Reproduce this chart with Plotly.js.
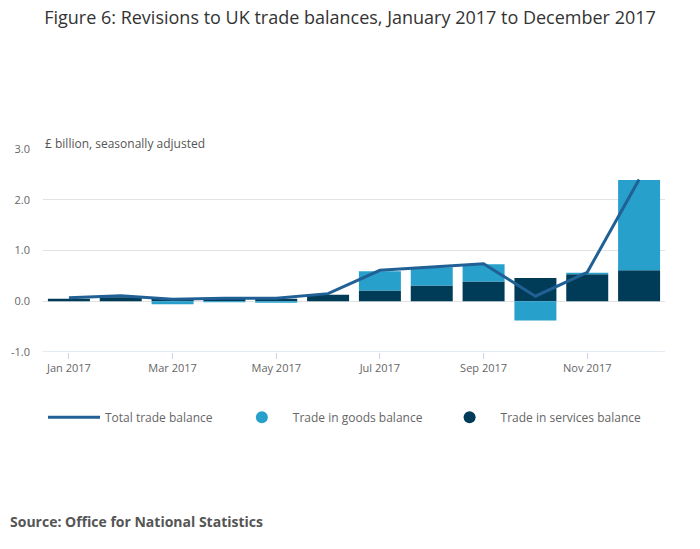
<!DOCTYPE html>
<html>
<head>
<meta charset="utf-8">
<script src="https://cdn.plot.ly/plotly-3.0.1.min.js"></script>
<style>
  html, body { margin: 0; padding: 0; background: #fff; }
  #chart { width: 700px; height: 549px; }
</style>
</head>
<body>
<div id="chart"></div>
<script>
var months = ["Jan 2017", "Feb 2017", "Mar 2017", "Apr 2017", "May 2017", "Jun 2017",
              "Jul 2017", "Aug 2017", "Sep 2017", "Oct 2017", "Nov 2017", "Dec 2017"];
var tickMonths = ["Jan 2017", "Mar 2017", "May 2017", "Jul 2017", "Sep 2017", "Nov 2017"];

var services = [0.05, 0.08, 0.05, 0.05, 0.05, 0.13, 0.21, 0.31, 0.39, 0.46, 0.53, 0.61];
var goods = [0.00, 0.00, -0.06, -0.02, -0.03, 0.00, 0.38, 0.36, 0.34, -0.38, 0.03, 1.78];
var total = [0.07, 0.11, 0.04, 0.06, 0.06, 0.15, 0.61, 0.68, 0.74, 0.10, 0.57, 2.40];

var darkBlue = "#003c57";
var lightBlue = "#27a0cc";
var lineBlue = "#206095";

var data = [
    {
        x: months, y: total, type: "scatter", mode: "lines",
        name: "Total trade balance", legend: "legend",
        line: {color: lineBlue, width: 3}
    },
    {
        x: [null], y: [null], type: "scatter", mode: "markers",
        name: "Trade in goods balance", legend: "legend2",
        marker: {color: lightBlue, size: 12, symbol: "circle"}
    },
    {
        x: [null], y: [null], type: "scatter", mode: "markers",
        name: "Trade in services balance", legend: "legend3",
        marker: {color: darkBlue, size: 12, symbol: "circle"}
    },
    {
        x: months, y: services, type: "bar", name: "Trade in services balance",
        marker: {color: darkBlue}, showlegend: false
    },
    {
        x: months, y: goods, type: "bar", name: "Trade in goods balance",
        marker: {color: lightBlue}, showlegend: false
    }
];

// one legend box per entry so each sits where the reference puts it
function legendAt(x) {
    return {
        orientation: "h",
        x: x, xanchor: "left",
        y: -0.25, yanchor: "top",
        font: {size: 12, color: "#666"},
        itemwidth: 52
    };
}

var layout = {
    width: 700,
    height: 549,
    margin: {l: 43, r: 35, t: 149, b: 197},
    paper_bgcolor: "#fff",
    plot_bgcolor: "#fff",
    font: {family: "Open Sans, sans-serif", color: "#666", size: 11},
    title: {
        text: "Figure 6: Revisions to UK trade balances, January 2017 to December 2017",
        font: {size: 18, color: "#333"},
        x: 0.5, xanchor: "center", y: 0.967, yanchor: "middle"
    },
    barmode: "relative",
    bargap: 0.19,
    showlegend: true,
    legend: legendAt(0.0),
    legend2: legendAt(0.302),
    legend3: legendAt(0.636),
    xaxis: {
        type: "category",
        range: [-0.5, 11.5],
        tickvals: tickMonths,
        ticks: "outside",
        ticklen: 6,
        tickcolor: "#c8d6e8",
        showgrid: false,
        showline: false,
        fixedrange: true
    },
    yaxis: {
        range: [-1, 3],
        tickvals: [-1, 0, 1, 2, 3],
        ticktext: ["-1.0", "0.0", "1.0", "2.0", "3.0"],
        gridcolor: "#e2e2e2",
        zeroline: false,
        showline: false,
        ticks: "",
        ticklabelstandoff: 12,
        fixedrange: true
    },
    shapes: [
        {type: "line", xref: "paper", yref: "y", x0: 0, x1: 1, y0: -1, y1: -1,
         line: {color: "#c8d6e8", width: 1}}
    ],
    annotations: [
        {text: "£ billion, seasonally adjusted", xref: "paper", yref: "paper",
         x: 0, y: 0.975, xanchor: "left", yanchor: "bottom", showarrow: false,
         font: {size: 12, color: "#555"}},
        {text: "<b>Source: Office for National Statistics</b>", xref: "paper", yref: "paper",
         x: -0.056, y: -0.835, xanchor: "left", yanchor: "middle", showarrow: false,
         font: {size: 14, color: "#555"}}
    ]
};

Plotly.newPlot("chart", data, layout, {displayModeBar: false, staticPlot: true});
</script>
</body>
</html>
